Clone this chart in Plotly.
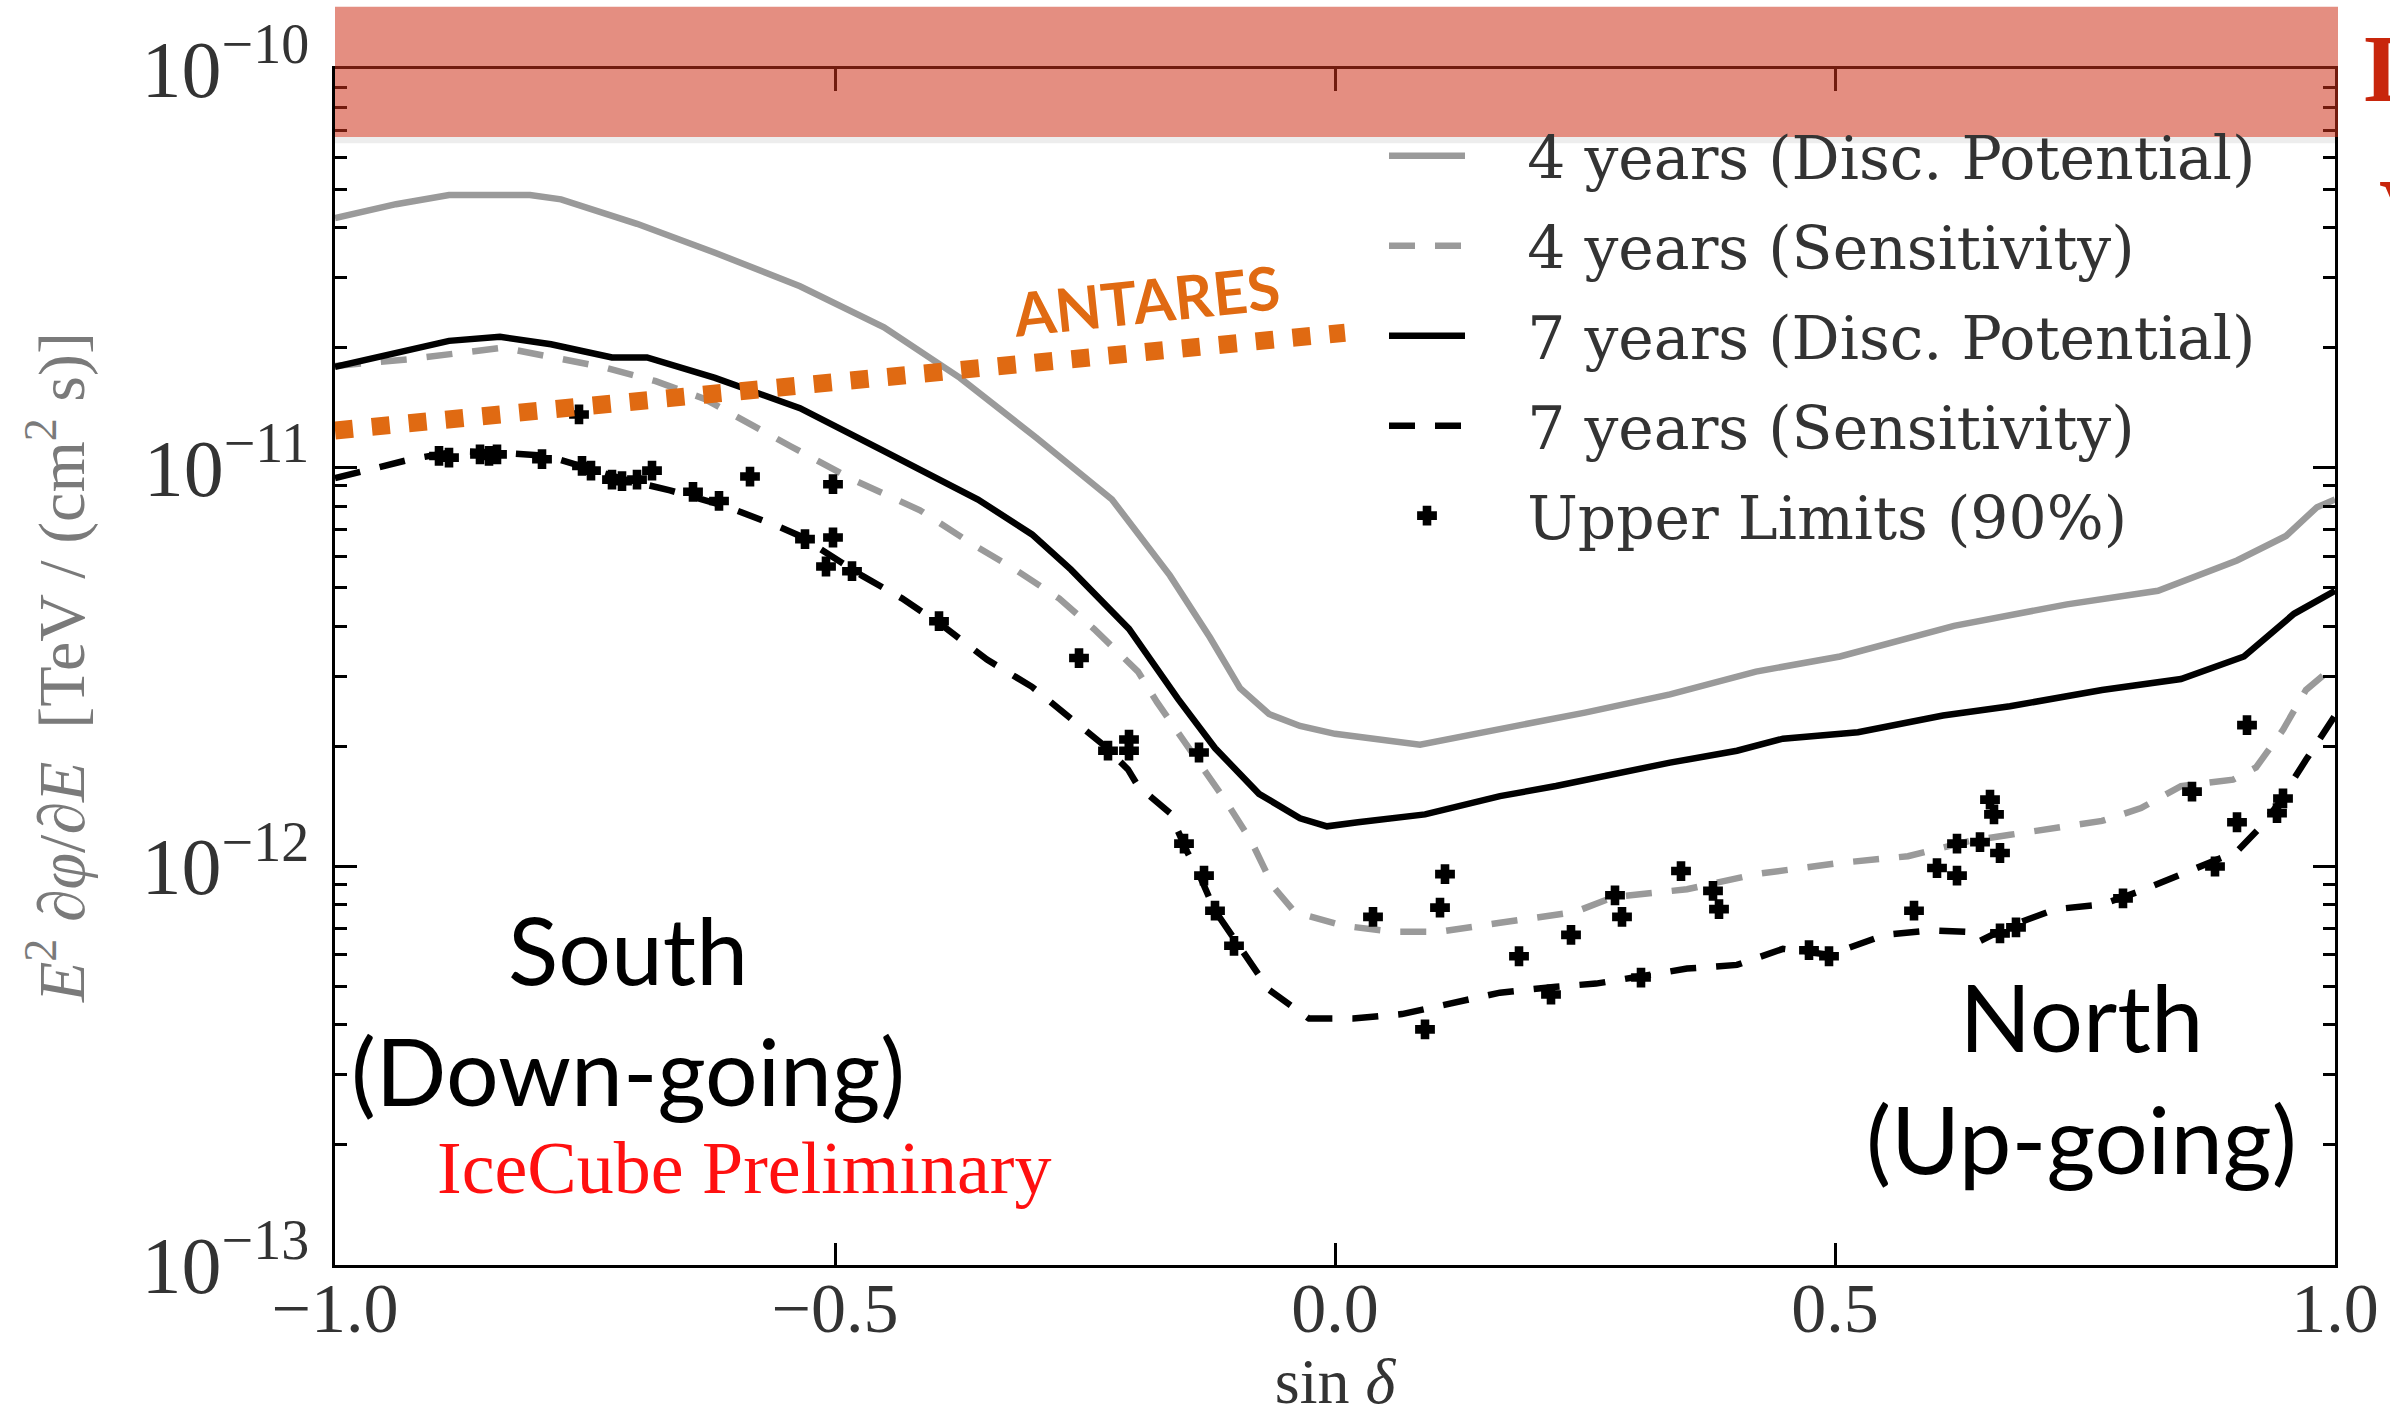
import plotly.graph_objects as go

# ---- data: sin(declination) vs E^2 dPhi/dE  [TeV cm^-2 s^-1] ----
dp4_x = [-1.0, -0.939, -0.886, -0.805, -0.774, -0.698, -0.620, -0.535, -0.451, -0.375,
         -0.299, -0.223, -0.165, -0.125, -0.095, -0.066, -0.035, 0.0, 0.085, 0.165,
         0.250, 0.335, 0.421, 0.505, 0.619, 0.732, 0.823, 0.902, 0.951, 0.982, 1.0]
dp4_y = [4.23e-11, 4.58e-11, 4.83e-11, 4.83e-11, 4.71e-11, 4.09e-11, 3.46e-11, 2.85e-11,
         2.25e-11, 1.68e-11, 1.19e-11, 8.32e-12, 5.36e-12, 3.75e-12, 2.80e-12, 2.41e-12,
         2.25e-12, 2.15e-12, 2.02e-12, 2.20e-12, 2.43e-12, 2.70e-12, 3.08e-12, 3.36e-12,
         4.01e-12, 4.54e-12, 4.91e-12, 5.85e-12, 6.74e-12, 7.96e-12, 8.32e-12]

sens4_x = [-1.0, -0.927, -0.832, -0.733, -0.680, -0.631, -0.544, -0.482, -0.415, -0.361,
           -0.322, -0.276, -0.241, -0.197, -0.178, -0.142, -0.111, -0.084, -0.062, -0.040,
           0.009, 0.059, 0.104, 0.165, 0.239, 0.279, 0.352, 0.421, 0.505, 0.573,
           0.636, 0.675, 0.767, 0.806, 0.846, 0.898, 0.921, 0.948, 0.971, 1.0]
sens4_y = [1.80e-11, 1.87e-11, 2.00e-11, 1.79e-11, 1.65e-11, 1.49e-11, 1.13e-11, 9.33e-12,
           7.82e-12, 6.39e-12, 5.60e-12, 4.70e-12, 3.94e-12, 3.08e-12, 2.58e-12, 1.93e-12,
           1.48e-12, 1.16e-12, 8.91e-13, 7.67e-13, 7.09e-13, 6.85e-13, 6.85e-13, 7.22e-13,
           7.67e-13, 8.38e-13, 8.76e-13, 9.56e-13, 1.02e-12, 1.06e-12, 1.16e-12, 1.20e-12,
           1.30e-12, 1.40e-12, 1.59e-12, 1.65e-12, 1.77e-12, 2.20e-12, 2.77e-12, 3.19e-12]

dp7_x = [-1.0, -0.939, -0.886, -0.835, -0.784, -0.723, -0.688, -0.620, -0.535, -0.451,
         -0.357, -0.303, -0.264, -0.206, -0.157, -0.120, -0.076, -0.035, -0.008, 0.023,
         0.090, 0.165, 0.221, 0.335, 0.402, 0.448, 0.523, 0.608, 0.675, 0.767,
         0.846, 0.909, 0.959, 1.0]
dp7_y = [1.79e-11, 1.94e-11, 2.08e-11, 2.13e-11, 2.04e-11, 1.89e-11, 1.89e-11, 1.68e-11,
         1.41e-11, 1.10e-11, 8.32e-12, 6.80e-12, 5.55e-12, 3.94e-12, 2.63e-12, 1.98e-12,
         1.52e-12, 1.32e-12, 1.26e-12, 1.29e-12, 1.35e-12, 1.50e-12, 1.59e-12, 1.82e-12,
         1.95e-12, 2.09e-12, 2.17e-12, 2.39e-12, 2.52e-12, 2.77e-12, 2.95e-12, 3.36e-12,
         4.30e-12, 4.91e-12]

sens7_x = [-1.0, -0.962, -0.924, -0.878, -0.832, -0.787, -0.748, -0.710, -0.665, -0.611,
           -0.559, -0.535, -0.473, -0.433, -0.392, -0.348, -0.303, -0.267, -0.232, -0.207,
           -0.197, -0.165, -0.148, -0.134, -0.120, -0.093, -0.066, -0.026, 0.018, 0.067,
           0.117, 0.165, 0.221, 0.261, 0.306, 0.352, 0.402, 0.448, 0.494, 0.550,
           0.596, 0.631, 0.642, 0.675, 0.721, 0.767, 0.806, 0.852, 0.902, 0.925,
           0.942, 0.971, 1.0]
sens7_y = [9.41e-12, 9.92e-12, 1.05e-11, 1.10e-11, 1.09e-11, 1.07e-11, 1.00e-11, 9.33e-12,
           8.77e-12, 8.03e-12, 7.16e-12, 6.74e-12, 5.36e-12, 4.70e-12, 4.01e-12, 3.30e-12,
           2.82e-12, 2.37e-12, 2.02e-12, 1.75e-12, 1.59e-12, 1.36e-12, 1.09e-12, 9.31e-13,
           7.74e-13, 6.16e-13, 4.90e-13, 4.15e-13, 4.15e-13, 4.26e-13, 4.53e-13, 4.82e-13,
           4.99e-13, 5.08e-13, 5.30e-13, 5.54e-13, 5.66e-13, 6.21e-13, 6.00e-13, 6.73e-13,
           6.91e-13, 6.85e-13, 6.44e-13, 7.09e-13, 7.81e-13, 8.02e-13, 8.68e-13, 9.65e-13,
           1.09e-12, 1.25e-12, 1.42e-12, 1.85e-12, 2.39e-12]

ul_x = [-0.896, -0.886, -0.855, -0.846, -0.838, -0.793, -0.753, -0.744, -0.723, -0.713,
        -0.698, -0.683, -0.756, -0.585, -0.642, -0.616, -0.502, -0.502, -0.530, -0.509,
        -0.483, -0.396, -0.256, -0.227, -0.206, -0.206, -0.136, -0.151, -0.131, -0.120,
        -0.101, 0.038, 0.110, 0.105, 0.090, 0.184, 0.216, 0.236, 0.280, 0.287,
        0.306, 0.346, 0.378, 0.384, 0.474, 0.494, 0.579, 0.602, 0.622, 0.622,
        0.645, 0.655, 0.659, 0.665, 0.665, 0.681, 0.788, 0.857, 0.880, 0.902,
        0.912, 0.942, 0.948]
ul_y = [1.07e-11, 1.06e-11, 1.08e-11, 1.07e-11, 1.08e-11, 1.05e-11, 1.01e-11, 9.83e-12,
        9.33e-12, 9.25e-12, 9.33e-12, 9.83e-12, 1.36e-11, 9.50e-12, 8.70e-12, 8.25e-12,
        9.09e-12, 6.68e-12, 6.62e-12, 5.65e-12, 5.50e-12, 4.12e-12, 3.33e-12, 1.95e-12,
        2.08e-12, 1.95e-12, 1.93e-12, 1.14e-12, 9.48e-13, 7.74e-13, 6.32e-13, 7.47e-13,
        9.56e-13, 7.88e-13, 3.90e-13, 5.95e-13, 4.77e-13, 6.73e-13, 8.46e-13, 7.47e-13,
        5.26e-13, 9.73e-13, 8.68e-13, 7.81e-13, 6.16e-13, 5.95e-13, 7.74e-13, 9.90e-13,
        9.48e-13, 1.14e-12, 1.15e-12, 1.47e-12, 1.35e-12, 1.08e-12, 6.79e-13, 7.03e-13,
        8.31e-13, 1.54e-12, 9.99e-13, 1.29e-12, 2.26e-12, 1.36e-12, 1.48e-12]

antares_x = [-1.0, 0.01]
antares_y = [1.24e-11, 2.18e-11]

x_ticks = [-1.0, -0.5, 0.0, 0.5, 1.0]

GRAY = "#9a9a9a"
SERIF = "Liberation Serif, DejaVu Serif, serif"
LEGEND_SERIF = "DejaVu Serif, Liberation Serif, serif"
SANS = "Lato, Open Sans, sans-serif"
PAD = "\u00a0\u00a0\u00a0"  # gap between legend sample and its label

fig = go.Figure()

fig.add_trace(go.Scatter(x=dp4_x, y=dp4_y, mode="lines", name=PAD + "4 years (Disc. Potential)",
                         legendgroup="a", line=dict(color=GRAY, width=6.5)))
fig.add_trace(go.Scatter(x=sens4_x, y=sens4_y, mode="lines", name=PAD + "4 years (Sensitivity)",
                         legendgroup="b", line=dict(color=GRAY, width=6.5, dash="26px,20px")))
fig.add_trace(go.Scatter(x=dp7_x, y=dp7_y, mode="lines", name=PAD + "7 years (Disc. Potential)",
                         legendgroup="c", line=dict(color="black", width=6.5)))
fig.add_trace(go.Scatter(x=sens7_x, y=sens7_y, mode="lines", name=PAD + "7 years (Sensitivity)",
                         legendgroup="d", line=dict(color="black", width=6.5, dash="26px,20px")))
fig.add_trace(go.Scatter(x=ul_x, y=ul_y, mode="markers", name=PAD + "Upper Limits (90%)",
                         legendgroup="e",
                         marker=dict(symbol="cross", size=14, color="black",
                                     line=dict(width=3, color="black"))))
fig.add_trace(go.Scatter(x=antares_x, y=antares_y, mode="lines", showlegend=False,
                         line=dict(color="#e06a12", width=18, dash="18px,19px")))

axis_common = dict(showline=True, linecolor="black", linewidth=3, mirror="allticks",
                   ticks="inside", tickcolor="black", tickwidth=3, ticklen=22,
                   showgrid=False, zeroline=False)

fig.update_xaxes(range=[-1, 1], tickvals=x_ticks, tickformat=".1f",
                 tickfont=dict(family=SERIF, size=70, color="#333333"),
                 ticklabelstandoff=-20,
                 title=dict(text="sin <i>δ</i>", font=dict(family=SERIF, size=64, color="#333333"),
                            standoff=10),
                 **axis_common)
fig.update_yaxes(type="log", range=[-13, -10], dtick=1, exponentformat="power",
                 tickfont=dict(family=SERIF, size=64, color="#333333"),
                 ticklabelstandoff=10,
                 minor=dict(ticks="inside", ticklen=12, tickwidth=2.5, tickcolor="black",
                            dtick="D1", showgrid=False),
                 title=dict(text="<i>E</i><sup>2</sup> ∂<i>φ</i>/∂<i>E</i>  [TeV / (cm<sup>2</sup> s)]",
                            font=dict(family=SERIF, size=66, color="#7a7a7a"), standoff=36),
                 **axis_common)

annotations = [
    dict(text="South<br>(Down-going)", x=0.1465, y=0.214, xref="paper", yref="paper",
         showarrow=False, font=dict(family=SANS, size=93, color="black"),
         xanchor="center", yanchor="middle", align="center"),
    dict(text="North<br>(Up-going)", x=0.873, y=0.158, xref="paper", yref="paper",
         showarrow=False, font=dict(family=SANS, size=94, color="black"),
         xanchor="center", yanchor="middle", align="center"),
    dict(text="IceCube Preliminary", x=0.2045, y=0.081, xref="paper", yref="paper",
         showarrow=False, font=dict(family=SERIF, size=74, color="#ff1010"),
         xanchor="center", yanchor="middle"),
    dict(text="ANTARES", x=0.4055, y=0.807, xref="paper", yref="paper",
         showarrow=False, textangle=-6,
         font=dict(family=SANS, size=60, color="#e06a12", weight="bold"),
         xanchor="center", yanchor="middle"),
    dict(text="D", x=1.0135, y=1.0008, xref="paper", yref="paper", showarrow=False,
         font=dict(family=SERIF, size=96, color="#c8260c", weight="bold"),
         xanchor="left", yanchor="middle"),
    dict(text="V", x=1.021, y=0.879, xref="paper", yref="paper", showarrow=False,
         font=dict(family=SERIF, size=100, color="#c8260c", weight="bold"),
         xanchor="left", yanchor="middle"),
]

shapes = [
    # faint drop shadow under the highlight band
    dict(type="rect", xref="paper", yref="paper", x0=0.0, x1=1.0015, y0=0.938, y1=0.9431,
         fillcolor="rgba(0,0,0,0.07)", line=dict(width=0), layer="above"),
    # translucent highlight band across the top of the plot
    dict(type="rect", xref="paper", yref="paper", x0=0.0, x1=1.0015, y0=0.9431, y1=1.052,
         fillcolor="rgba(205,50,25,0.55)", line=dict(width=0), layer="above"),
]

fig.update_layout(
    width=2390, height=1417,
    margin=dict(l=335, r=55, t=69, b=152, autoexpand=False),
    paper_bgcolor="white", plot_bgcolor="white",
    annotations=annotations, shapes=shapes,
    legend=dict(x=0.5245, y=0.9656, xanchor="left", yanchor="top",
                bgcolor="rgba(0,0,0,0)", borderwidth=0, itemwidth=76,
                font=dict(family=LEGEND_SERIF, size=60, color="#333333"),
                traceorder="grouped", tracegroupgap=9),
)

fig.write_html("out.html")
